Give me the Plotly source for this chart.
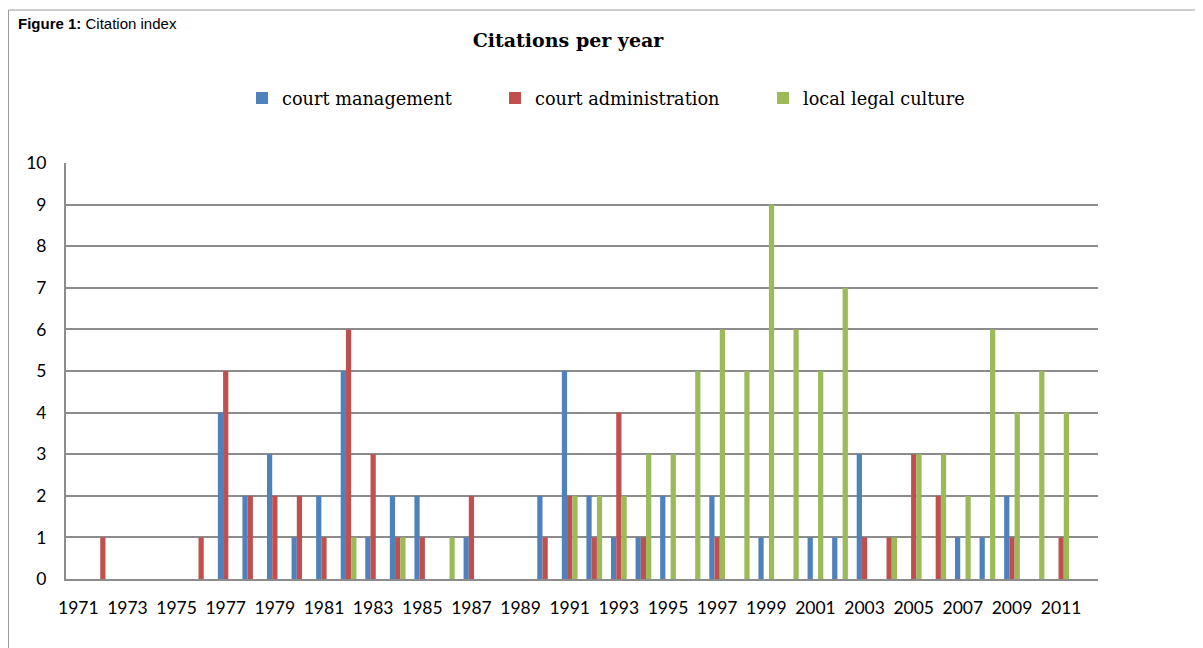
import plotly.graph_objects as go

years = [str(y) for y in range(1971, 2013)]
court_management = [0, 0, 0, 0, 0, 0, 4, 2, 3, 1, 2, 5, 1, 2, 2, 0, 1, 0, 0, 2, 5,
                    2, 1, 1, 2, 0, 2, 0, 1, 0, 1, 1, 3, 0, 0, 0, 1, 1, 2, 0, 0, 0]
court_administration = [0, 1, 0, 0, 0, 1, 5, 2, 2, 2, 1, 6, 3, 1, 1, 0, 2, 0, 0, 1, 2,
                        1, 4, 1, 0, 0, 1, 0, 0, 0, 0, 0, 1, 1, 3, 2, 0, 0, 1, 0, 1, 0]
local_legal_culture = [0, 0, 0, 0, 0, 0, 0, 0, 0, 0, 0, 1, 0, 1, 0, 1, 0, 0, 0, 0, 2,
                       2, 2, 3, 3, 5, 6, 5, 9, 6, 5, 7, 0, 1, 3, 3, 2, 6, 4, 5, 4, 0]
tick_labels = [str(y) for y in range(1971, 2012, 2)]
series = [
    ("court management", court_management, "#4F81BD", "legend"),
    ("court administration", court_administration, "#C0504D", "legend2"),
    ("local legal culture", local_legal_culture, "#9BBB59", "legend3"),
]

OFF = 8  # page offset of the figure div (default body margin)
W, H = 1203 - OFF, 648 - OFF
L = 66 - OFF
R = W - (1098 - OFF)
T = 163 - OFF
B = H - (579 - OFF)
pw, ph = W - L - R, H - T - B


def px_x(p):
    return (p - OFF - L) / pw


def px_y(p):
    return (H - B - (p - OFF)) / ph


fig = go.Figure()
for name, vals, color, lg in series:
    fig.add_trace(go.Bar(x=years, y=vals, name=name, legend=lg,
                         marker=dict(color=color, line=dict(width=0))))

leg_font = dict(family="DejaVu Serif", size=17.7, color="#000000")
legend_common = dict(orientation="h", xanchor="left", yanchor="middle",
                     font=leg_font, bgcolor="rgba(0,0,0,0)", borderwidth=0)
text_starts = [282, 535, 803]
legs = {}
for key, ts in zip(["legend", "legend2", "legend3"], text_starts):
    legs[key] = dict(x=px_x(ts - 40), y=px_y(98.5), **legend_common)

fig.update_layout(
    width=W, height=H,
    margin=dict(l=L, r=R, t=T, b=B),
    paper_bgcolor="white", plot_bgcolor="white",
    barmode="group", bargap=0.36, bargroupgap=0,
    showlegend=True,
    title=dict(text="<b>Citations per year</b>", x=(568 - OFF) / W, xanchor="center",
               y=1 - (40 - OFF) / H, yanchor="middle",
               font=dict(family="DejaVu Serif", size=19, color="#000000")),
    xaxis=dict(type="category", range=[-0.5, 41.5], tickmode="array",
               tickvals=tick_labels, ticktext=tick_labels, showgrid=False,
               showline=True, linecolor="#8c8c8c", linewidth=2, ticks="",
               ticklabelstandoff=12,
               tickfont=dict(family="Lato", size=17.5, color="#000000")),
    yaxis=dict(range=[0, 10], dtick=1, showgrid=True, gridcolor="#8c8c8c",
               gridwidth=1.5, zeroline=False, showline=True, linecolor="#8c8c8c",
               linewidth=2, ticks="", ticklabelstandoff=14,
               tickfont=dict(family="Lato", size=17.5, color="#000000")),
    **legs,
)

fig.add_shape(type="rect", xref="paper", yref="paper",
              x0=px_x(8.5), x1=px_x(1260), y0=px_y(700), y1=px_y(10),
              line=dict(color="#9a9a9a", width=1), fillcolor="rgba(0,0,0,0)",
              layer="below")

fig.add_annotation(text="<b>Figure 1:</b> Citation index", xref="paper", yref="paper",
                   x=px_x(16), y=px_y(13), xanchor="left", yanchor="top",
                   showarrow=False,
                   font=dict(family="Liberation Sans", size=15, color="#000000"))

fig.write_html("out.html")
